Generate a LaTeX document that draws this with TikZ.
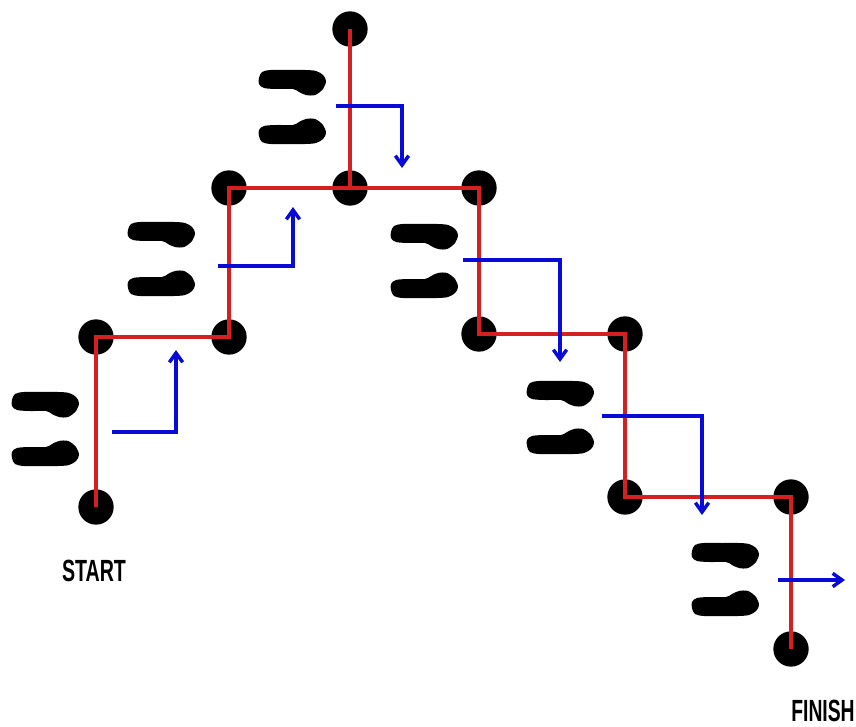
\documentclass[tikz,border=0pt]{standalone}
\usepackage{fontspec}
\setmainfont{Liberation Sans}
\usetikzlibrary{arrows.meta}
\definecolor{pathred}{RGB}{212,32,32}
\definecolor{stepblue}{RGB}{10,10,215}
\tikzset{
  dot/.style={circle,fill=black,minimum size=26.5pt,inner sep=0pt},
  redline/.style={draw=pathred,line width=3pt},
  bluearrow/.style={draw=stepblue,line width=2.6pt,-{Straight Barb[length=7pt,width=10pt]}},
  lbl/.style={font=\fontsize{23}{23}\selectfont\bfseries,inner sep=0pt},
  footup/.pic={\fill[black] plot[smooth cycle,tension=0.55] coordinates {(0,8) (3,2) (12,0) (30,0) (46,0) (57,1) (64,5) (67,11) (64,19) (56,25) (47,25) (40,22) (34,19) (18,19) (5,18) (0,14)};},
  footdown/.pic={\fill[black] plot[smooth cycle,tension=0.55] coordinates {(0,17) (3,23) (12,25) (30,25) (46,25) (57,24) (64,20) (67,14) (64,6) (56,0) (47,0) (40,3) (34,6) (18,6) (5,7) (0,11)};}
}
\begin{document}
\begin{tikzpicture}[x=0.75pt,y=-0.75pt]
\useasboundingbox (0,0) rectangle (856,727);
% dots
\node[dot] (s0) at (96,507) {};
\node[dot] (s1) at (96,337) {};
\node[dot] (s2) at (229,337) {};
\node[dot] (s3) at (229,188) {};
\node[dot] (s4) at (350,188) {};
\node[dot] (s5) at (350,29) {};
\node[dot] (s6) at (479,188) {};
\node[dot] (s7) at (479,334) {};
\node[dot] (s8) at (625,334) {};
\node[dot] (s9) at (625,497) {};
\node[dot] (s10) at (791,497) {};
\node[dot] (s11) at (791,649) {};
% red path
\draw[redline] (s0.center) -- (s1.center) -- (s2.center) -- (s3.center) -- (s4.center) -- (s6.center) -- (s7.center) -- (s8.center) -- (s9.center) -- (s10.center) -- (s11.center);
\draw[redline] (s4.center) -- (s5.center);
% footprints
\foreach \fx/\fa/\fb in {12/392/441, 128/222/271, 259/70/119, 391/224/273, 527/381/429, 692/543/591}{
  \pic at (\fx,\fa) {footup};
  \pic at (\fx,\fb) {footdown};
}
% blue arrows
\coordinate (a1) at (112,432); \coordinate (e1) at (176,350);
\coordinate (a2) at (218,266); \coordinate (e2) at (293,207);
\coordinate (a3) at (336,106); \coordinate (e3) at (402,168);
\coordinate (a4) at (463,260); \coordinate (e4) at (560,362);
\coordinate (a5) at (602,416); \coordinate (e5) at (702,515);
\coordinate (a6) at (778,580); \coordinate (e6) at (845,580);
\draw[bluearrow] (a1) -| (e1);
\draw[bluearrow] (a2) -| (e2);
\draw[bluearrow] (a3) -| (e3);
\draw[bluearrow] (a4) -| (e4);
\draw[bluearrow] (a5) -| (e5);
\draw[bluearrow] (a6) -- (e6);
% labels
\node[lbl] (start) at (94,571) {\scalebox{0.64}[1]{START}};
\node[lbl] (finish) at (823,711) {\scalebox{0.63}[1]{FINISH}};
\end{tikzpicture}
\end{document}
